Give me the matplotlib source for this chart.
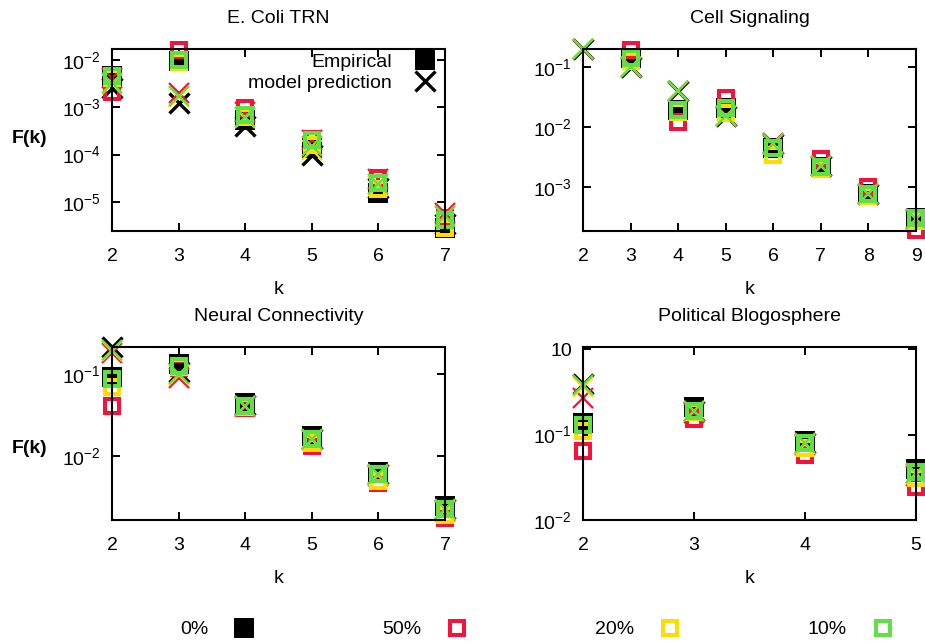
import numpy as np
import matplotlib
matplotlib.use('Agg')
import matplotlib.pyplot as plt
from matplotlib.lines import Line2D
from matplotlib.ticker import FixedLocator, FixedFormatter, NullLocator

plt.rcParams['font.family'] = ['Liberation Sans', 'DejaVu Sans']
plt.rcParams['mathtext.fontset'] = 'custom'
plt.rcParams['mathtext.rm'] = 'Liberation Sans'
plt.rcParams['mathtext.it'] = 'Liberation Sans:italic'
plt.rcParams['mathtext.bf'] = 'Liberation Sans:bold'

NAN = np.nan

# ── Data: F(k) per network, empirical vs model, for each noise level ─────────
LEVELS = ['0%', '50%', '20%', '10%']
COLORS = {'0%': '#000000', '50%': '#f5123c', '20%': '#ffdc00', '10%': '#5fe046'}

ecoli_k = [2, 3, 4, 5, 6, 7]
ecoli_emp_0 = [4.7e-3, 9.5e-3, 5.4e-4, 1.38e-4, 1.55e-5, 2.8e-6]
ecoli_emp_50 = [2.1e-3, 1.6e-2, 9.7e-4, 2.1e-4, 3.2e-5, 4.5e-6]
ecoli_emp_20 = [4.2e-3, 9.1e-3, 6.2e-4, 1.6e-4, 1.86e-5, 2.8e-6]
ecoli_emp_10 = [4.6e-3, 1.0e-2, 6.9e-4, 2.04e-4, 2.5e-5, 4.2e-6]
ecoli_mod_0 = [2.56e-3, 1.23e-3, 4.0e-4, 9.8e-5, 1.97e-5, 3.5e-6]
ecoli_mod_50 = [4.2e-3, 2.0e-3, 8.0e-4, 2.0e-4, 3.0e-5, 5.8e-6]
ecoli_mod_20 = [3.1e-3, 1.65e-3, 6.0e-4, 1.25e-4, 2.2e-5, 5.0e-6]
ecoli_mod_10 = [3.3e-3, 1.74e-3, 6.2e-4, 1.5e-4, 2.4e-5, 5.0e-6]

cell_k = [2, 3, 4, 5, 6, 7, 8, 9]
cell_emp_0 = [NAN, 0.141, 0.0192, 0.0207, 4.47e-3, 2.15e-3, 7.6e-4, 3.04e-4]
cell_emp_50 = [NAN, 0.187, 0.0121, 0.0304, 4.5e-3, 2.93e-3, 1.0e-3, 1.92e-4]
cell_emp_20 = [NAN, 0.126, 0.0178, 0.0171, 3.4e-3, 2.0e-3, 7.1e-4, 2.7e-4]
cell_emp_10 = [NAN, 0.138, 0.0190, 0.0205, 4.4e-3, 2.12e-3, 7.5e-4, 3.0e-4]
cell_mod_0 = [0.2, 0.1, 0.039, 0.015, 5.2e-3, 2.2e-3, 7.7e-4, 2.9e-4]
cell_mod_50 = [0.2, 0.1, 0.039, 0.015, 5.3e-3, 2.2e-3, 7.7e-4, 2.9e-4]
cell_mod_20 = [0.2, 0.1, 0.039, 0.015, 5.2e-3, 2.2e-3, 7.6e-4, 2.9e-4]
cell_mod_10 = [0.2, 0.1, 0.039, 0.015, 5.2e-3, 2.2e-3, 7.6e-4, 2.9e-4]

neural_k = [2, 3, 4, 5, 6, 7]
neural_emp_0 = [0.092, 0.132, 0.0448, 0.0174, 6.3e-3, 2.39e-3]
neural_emp_50 = [0.0405, 0.12, 0.0384, 0.0131, 4.63e-3, 1.73e-3]
neural_emp_20 = [0.069, 0.122, 0.0395, 0.0143, 4.9e-3, 1.88e-3]
neural_emp_10 = [0.087, 0.127, 0.0405, 0.016, 5.96e-3, 2.23e-3]
neural_mod_0 = [0.214, 0.106, 0.042, 0.016, 5.9e-3, 2.2e-3]
neural_mod_50 = [0.181, 0.089, 0.040, 0.0155, 5.7e-3, 2.1e-3]
neural_mod_20 = [0.195, 0.097, 0.041, 0.0158, 5.8e-3, 2.15e-3]
neural_mod_10 = [0.2, 0.1, 0.041, 0.016, 5.9e-3, 2.2e-3]

blog_k = [2, 3, 4, 5]
blog_emp_0 = [0.138, 0.213, 0.085, 0.0398]
blog_emp_50 = [0.0648, 0.154, 0.0582, 0.0244]
blog_emp_20 = [0.111, 0.182, 0.0703, 0.0312]
blog_emp_10 = [0.131, 0.191, 0.0805, 0.0367]
blog_mod_0 = [0.388, 0.19, 0.08, 0.036]
blog_mod_50 = [0.272, 0.18, 0.075, 0.033]
blog_mod_20 = [0.357, 0.19, 0.078, 0.035]
blog_mod_10 = [0.377, 0.19, 0.08, 0.036]

# ── Figure ────────────────────────────────────────────────────────────────────
FS = 14
fig = plt.figure(figsize=(9.25, 6.44), dpi=100)

SQ_FILLED = dict(marker='s', ls='none', ms=14.4, mew=0)
SQ_OPEN = dict(marker='s', ls='none', ms=10, mew=2.9, mfc='none')
CROSS = dict(marker='x', ls='none', ms=14)


def panel(rect, title, k, emp, mod, ylim, yticks, ylabels, fk_y=None):
    ax = fig.add_axes(rect)
    ax.set_yscale('log')
    for i, lvl in enumerate(LEVELS):
        c = COLORS[lvl]
        style = SQ_FILLED if lvl == '0%' else SQ_OPEN
        ax.plot(k, emp[i], color=c, mec=c, clip_on=False, zorder=2 + i * 0.1, **style)
        ax.plot(k, mod[i], color=c, clip_on=False, zorder=2.05 + i * 0.1,
                mew=2.4 if lvl == '0%' else 1.6, **CROSS)
    ax.set_xlim(k[0], k[-1])
    ax.set_ylim(*ylim)
    ax.set_xticks(k)
    ax.set_xticklabels([str(v) for v in k])
    ax.yaxis.set_major_locator(FixedLocator(yticks))
    ax.yaxis.set_major_formatter(FixedFormatter(ylabels))
    ax.yaxis.set_minor_locator(NullLocator())
    ax.tick_params(which='both', direction='in', top=True, right=True,
                   length=5.5, width=1.4, labelsize=FS)
    ax.tick_params(axis='x', pad=12)
    ax.tick_params(axis='y', pad=8)
    for sp in ax.spines.values():
        sp.set_linewidth(1.5)
    ax.set_title(title, fontsize=FS, pad=19)
    ax.set_xlabel('k', fontsize=FS, labelpad=12)
    if fk_y is not None:
        ax.set_ylabel('F(k)', fontsize=FS, fontweight='bold', rotation=0,
                      ha='center', va='center')
        ax.yaxis.set_label_coords(-0.248, fk_y)
    return ax


ax1 = panel([0.1211, 0.6413, 0.36, 0.2826], 'E. Coli TRN', ecoli_k,
            [ecoli_emp_0, ecoli_emp_50, ecoli_emp_20, ecoli_emp_10],
            [ecoli_mod_0, ecoli_mod_50, ecoli_mod_20, ecoli_mod_10],
            (2.43e-6, 0.0171), [1e-5, 1e-4, 1e-3, 1e-2],
            [r'$\mathregular{10^{-5}}$', r'$\mathregular{10^{-4}}$',
             r'$\mathregular{10^{-3}}$', r'$\mathregular{10^{-2}}$'], fk_y=0.51)

ax2 = panel([0.6303, 0.6413, 0.36, 0.2826], 'Cell Signaling', cell_k,
            [cell_emp_0, cell_emp_50, cell_emp_20, cell_emp_10],
            [cell_mod_0, cell_mod_50, cell_mod_20, cell_mod_10],
            (1.85e-4, 0.197), [1e-3, 1e-2, 1e-1],
            [r'$\mathregular{10^{-3}}$', r'$\mathregular{10^{-2}}$',
             r'$\mathregular{10^{-1}}$'])

ax3 = panel([0.1211, 0.1925, 0.36, 0.2686], 'Neural Connectivity', neural_k,
            [neural_emp_0, neural_emp_50, neural_emp_20, neural_emp_10],
            [neural_mod_0, neural_mod_50, neural_mod_20, neural_mod_10],
            (1.63e-3, 0.216), [1e-2, 1e-1],
            [r'$\mathregular{10^{-2}}$', r'$\mathregular{10^{-1}}$'], fk_y=0.416)

ax4 = panel([0.6303, 0.1925, 0.36, 0.2686], 'Political Blogosphere', blog_k,
            [blog_emp_0, blog_emp_50, blog_emp_20, blog_emp_10],
            [blog_mod_0, blog_mod_50, blog_mod_20, blog_mod_10],
            (0.01, 1.06), [1e-2, 1e-1, 1],
            [r'$\mathregular{10^{-2}}$', r'$\mathregular{10^{-1}}$', '10'])

# key for marker meaning, inside the first panel
key = [Line2D([], [], color='black', **SQ_FILLED),
       Line2D([], [], color='black', mew=2.4, **CROSS)]
ax1.legend(key, ['Empirical', 'model prediction'], loc='upper right',
           bbox_to_anchor=(0.969, 0.975), borderaxespad=0, borderpad=0,
           frameon=False, markerfirst=False, fontsize=FS, handlelength=1.0,
           handletextpad=1.2, labelspacing=0.17)

# noise-level key along the bottom
lvl_handles = []
for lvl in LEVELS:
    c = COLORS[lvl]
    style = SQ_FILLED if lvl == '0%' else SQ_OPEN
    lvl_handles.append(Line2D([], [], color=c, mec=c, **style))
fig.legend(lvl_handles, LEVELS, loc='center', bbox_to_anchor=(0.58, 0.0225),
           ncol=4, frameon=False, markerfirst=False, fontsize=FS,
           handlelength=1.0, handletextpad=1.33, columnspacing=6.6,
           borderpad=0, borderaxespad=0)

fig.savefig('out.png', dpi=100)
